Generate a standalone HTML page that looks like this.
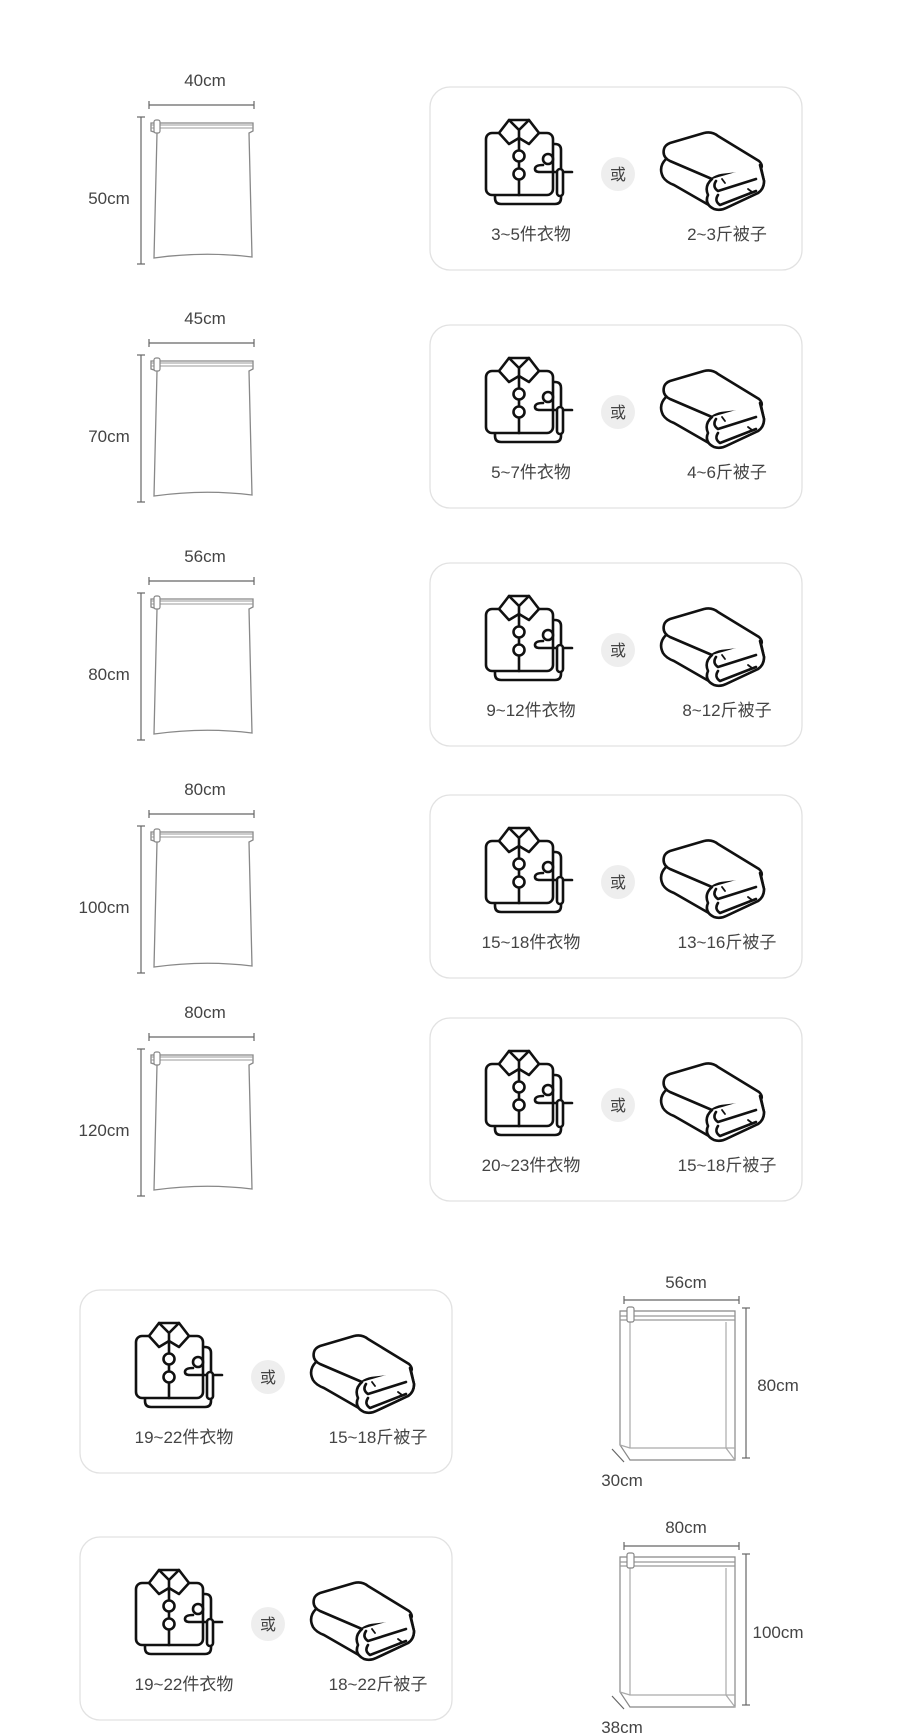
<!DOCTYPE html>
<html><head><meta charset="utf-8"><style>
html,body{margin:0;padding:0;background:#fff}
svg{display:block}
text{font-family:"Liberation Sans","Noto Sans CJK SC",sans-serif;fill:#444}
</style></head><body>
<svg width="919" height="1735" viewBox="0 0 919 1735" xmlns="http://www.w3.org/2000/svg">
<defs>
<g id="shirt" fill="none" stroke="#111" stroke-width="2.6" stroke-linejoin="round" stroke-linecap="round">
  <path d="M10,40 L10,81 Q10,87 16,87 L70,87 Q76,87 76,81 L76,33 Q76,27 70,27 L64,27"/>
  <rect x="1" y="16" width="67" height="62" rx="6" fill="#fff"/>
  <path d="M14,16 L24,3 L44,3 L54,16 L44,27 L34,21 L24,27 Z" fill="#fff"/>
  <path d="M24,3 L34,13 L44,3 M34,13 L34,21"/>
  <line x1="34" y1="21" x2="34" y2="78"/>
  <circle cx="34" cy="39" r="5.5" fill="#fff"/>
  <circle cx="34" cy="57" r="5.5" fill="#fff"/>
  <circle cx="63" cy="42" r="5" fill="#fff"/>
  <path d="M58,48 Q50,48 50,52 Q50,55 55,55 L87,55"/>
  <rect x="72" y="52" width="6" height="27" rx="3" fill="#fff"/>
</g>
<g id="blanket" fill="#fff" stroke="#111" stroke-width="2.6" stroke-linejoin="round" stroke-linecap="round">
  <path d="M6,28 Q-2,36 3,46 Q6,51 14,54 L54,77 Q60,80 66,77 L98,62 Q104,58 104,50 L100,32 Z"/>
  <path d="M10,12 L44,2 Q52,0 58,5 L99,30 Q105,36 98,40 L62,44 Q56,45 52,48 L10,30 Q2,26 4,18 Q5,14 10,12 Z"/>
  <path d="M52,48 Q44,55 48,64 Q44,73 54,78 Q60,80 66,77 L98,62 Q104,58 104,50 L100,34"/>
  <path d="M56,50 Q52,56 58,60 L96,48 M58,64 Q54,70 60,74 L96,60" fill="none"/>
  <path d="M62,48 l3,4 M88,58 l4,3" fill="none" stroke-width="1.8"/>
</g>
<g id="bag">
  <line x1="0" y1="-12" x2="105" y2="-12" stroke="#666" stroke-width="1.2"/>
  <line x1="0" y1="-16" x2="0" y2="-8" stroke="#666" stroke-width="1.2"/>
  <line x1="105" y1="-16" x2="105" y2="-8" stroke="#666" stroke-width="1.2"/>
  <line x1="-8" y1="0" x2="-8" y2="147" stroke="#666" stroke-width="1.2"/>
  <line x1="-12" y1="0" x2="-4" y2="0" stroke="#666" stroke-width="1.2"/>
  <line x1="-12" y1="147" x2="-4" y2="147" stroke="#666" stroke-width="1.2"/>
  <path d="M2,6 L104,6 L104,14 L100,16 L103,140 Q55,134 5,141 L8,16 L2,14 Z" fill="#fff" stroke="#888" stroke-width="1.3"/>
  <line x1="2" y1="8" x2="104" y2="8" stroke="#999" stroke-width="1"/>
  <line x1="2" y1="11" x2="104" y2="11" stroke="#999" stroke-width="1"/>
  <rect x="5" y="3" width="6" height="13" rx="2" fill="#fff" stroke="#888" stroke-width="1.2"/>
</g>
<g id="card">
  <rect x="0" y="0" width="372" height="183" rx="20" fill="#fff" stroke="#e2e2e2" stroke-width="1.3"/>
  <use href="#shirt" x="55" y="30"/>
  <circle cx="188" cy="87" r="17" fill="#eee"/>
  <text x="188" y="93" font-size="16" text-anchor="middle">或</text>
  <use href="#blanket" x="230" y="44"/>
</g>
</defs>

<g>
  <use href="#bag" x="149" y="117"/>
  <text x="205" y="86" font-size="17" text-anchor="middle">40cm</text>
  <text x="109" y="204" font-size="17" text-anchor="middle">50cm</text>
  <use href="#card" x="430" y="87"/>
  <text x="531" y="240" font-size="17" text-anchor="middle">3~5件衣物</text>
  <text x="727" y="240" font-size="17" text-anchor="middle">2~3斤被子</text>
</g>
<g>
  <use href="#bag" x="149" y="355"/>
  <text x="205" y="324" font-size="17" text-anchor="middle">45cm</text>
  <text x="109" y="442" font-size="17" text-anchor="middle">70cm</text>
  <use href="#card" x="430" y="325"/>
  <text x="531" y="478" font-size="17" text-anchor="middle">5~7件衣物</text>
  <text x="727" y="478" font-size="17" text-anchor="middle">4~6斤被子</text>
</g>
<g>
  <use href="#bag" x="149" y="593"/>
  <text x="205" y="562" font-size="17" text-anchor="middle">56cm</text>
  <text x="109" y="680" font-size="17" text-anchor="middle">80cm</text>
  <use href="#card" x="430" y="563"/>
  <text x="531" y="716" font-size="17" text-anchor="middle">9~12件衣物</text>
  <text x="727" y="716" font-size="17" text-anchor="middle">8~12斤被子</text>
</g>
<g>
  <use href="#bag" x="149" y="826"/>
  <text x="205" y="795" font-size="17" text-anchor="middle">80cm</text>
  <text x="104" y="913" font-size="17" text-anchor="middle">100cm</text>
  <use href="#card" x="430" y="795"/>
  <text x="531" y="948" font-size="17" text-anchor="middle">15~18件衣物</text>
  <text x="727" y="948" font-size="17" text-anchor="middle">13~16斤被子</text>
</g>
<g>
  <use href="#bag" x="149" y="1049"/>
  <text x="205" y="1018" font-size="17" text-anchor="middle">80cm</text>
  <text x="104" y="1136" font-size="17" text-anchor="middle">120cm</text>
  <use href="#card" x="430" y="1018"/>
  <text x="531" y="1171" font-size="17" text-anchor="middle">20~23件衣物</text>
  <text x="727" y="1171" font-size="17" text-anchor="middle">15~18斤被子</text>
</g>

<use href="#card" x="80" y="1290"/>
<text x="184" y="1443" font-size="17" text-anchor="middle">19~22件衣物</text>
<text x="378" y="1443" font-size="17" text-anchor="middle">15~18斤被子</text>
<use href="#card" x="80" y="1537"/>
<text x="184" y="1690" font-size="17" text-anchor="middle">19~22件衣物</text>
<text x="378" y="1690" font-size="17" text-anchor="middle">18~22斤被子</text>

<g stroke="#666" stroke-width="1.2" fill="none">
  <line x1="624" y1="1300" x2="739" y2="1300"/><line x1="624" y1="1296" x2="624" y2="1304"/><line x1="739" y1="1296" x2="739" y2="1304"/>
  <line x1="746" y1="1308" x2="746" y2="1458"/><line x1="742" y1="1308" x2="750" y2="1308"/><line x1="742" y1="1458" x2="750" y2="1458"/>
  <path d="M620,1311 L735,1311 L735,1460 L630,1460 L620,1445 Z" fill="#fff" stroke="#888"/>
  <path d="M630,1322 L630,1448 L735,1448 M630,1448 L620,1445 M726,1322 L726,1448 L735,1460" stroke="#aaa"/>
  <line x1="620" y1="1316" x2="735" y2="1316" stroke="#999"/><line x1="620" y1="1320" x2="735" y2="1320" stroke="#999"/>
  <rect x="627" y="1307" width="7" height="15" rx="2" fill="#fff" stroke="#888"/>
  <line x1="612" y1="1449" x2="624" y2="1462"/>

  <line x1="624" y1="1546" x2="739" y2="1546"/><line x1="624" y1="1542" x2="624" y2="1550"/><line x1="739" y1="1542" x2="739" y2="1550"/>
  <line x1="746" y1="1554" x2="746" y2="1705"/><line x1="742" y1="1554" x2="750" y2="1554"/><line x1="742" y1="1705" x2="750" y2="1705"/>
  <path d="M620,1557 L735,1557 L735,1707 L630,1707 L620,1692 Z" fill="#fff" stroke="#888"/>
  <path d="M630,1568 L630,1695 L735,1695 M630,1695 L620,1692 M726,1568 L726,1695 L735,1707" stroke="#aaa"/>
  <line x1="620" y1="1562" x2="735" y2="1562" stroke="#999"/><line x1="620" y1="1566" x2="735" y2="1566" stroke="#999"/>
  <rect x="627" y="1553" width="7" height="15" rx="2" fill="#fff" stroke="#888"/>
  <line x1="612" y1="1696" x2="624" y2="1709"/>
</g>
<text x="686" y="1288" font-size="17" text-anchor="middle">56cm</text>
<text x="778" y="1391" font-size="17" text-anchor="middle">80cm</text>
<text x="622" y="1486" font-size="17" text-anchor="middle">30cm</text>
<text x="686" y="1533" font-size="17" text-anchor="middle">80cm</text>
<text x="778" y="1638" font-size="17" text-anchor="middle">100cm</text>
<text x="622" y="1733" font-size="17" text-anchor="middle">38cm</text>
</svg>
</body></html>
